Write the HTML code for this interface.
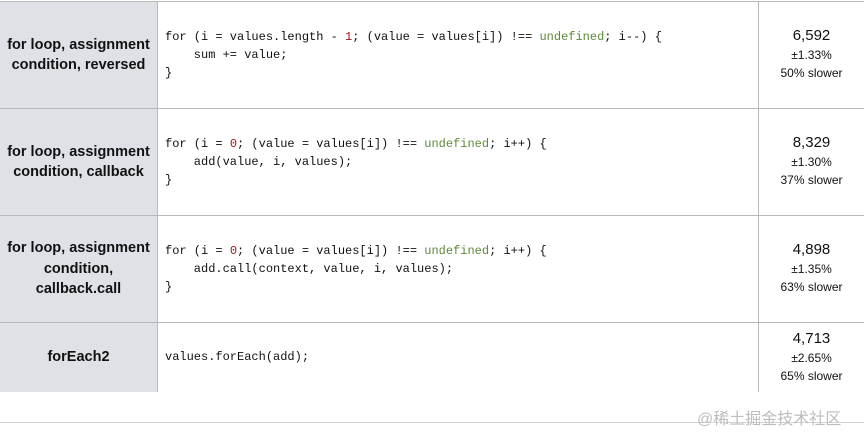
<!DOCTYPE html><html><head><style>
body{margin:0;width:864px;height:432px;background:#fff;position:relative;overflow:hidden;font-family:"Liberation Sans",sans-serif;color:#111}
.h{position:absolute;left:0;width:864px;height:1px;background:#b8b8b8}
.v{position:absolute;width:1px;background:#b8b8b8}
.lab{position:absolute;left:0;width:157px;background:#dee2e7;display:flex;align-items:center;justify-content:center;text-align:center;font-weight:bold;font-size:14.5px;line-height:20.5px}
.code{position:absolute;left:165px;font-family:"Liberation Mono",monospace;font-size:12px;line-height:18px;white-space:pre;color:#111}
.r{color:#a31515}.g{color:#5d8a3a}
.res{position:absolute;left:759px;width:105px;text-align:center;font-size:12px;line-height:18px}
.res b{font-weight:normal;font-size:15px;display:block;line-height:20px}
</style></head><body>
<div class="lab" style="top:2px;height:106px">for loop, assignment<br>condition, reversed</div>
<div class="lab" style="top:109px;height:106px">for loop, assignment<br>condition, callback</div>
<div class="lab" style="top:216px;height:106px">for loop, assignment<br>condition,<br>callback.call</div>
<div class="lab" style="top:323px;height:69px">forEach2</div>
<div class="h" style="top:1px"></div>
<div class="h" style="top:108px"></div>
<div class="h" style="top:215px"></div>
<div class="h" style="top:322px"></div>
<div class="h" style="top:422px;background:#d4d4d4"></div>
<div class="v" style="left:157px;top:1px;height:391px"></div>
<div class="v" style="left:758px;top:1px;height:391px"></div>
<div class="code" style="top:28px">for (i = values.length - <span class="r">1</span>; (value = values[i]) !== <span class="g">undefined</span>; i--) {
    sum += value;
}</div>
<div class="code" style="top:135px">for (i = <span class="r">0</span>; (value = values[i]) !== <span class="g">undefined</span>; i++) {
    add(value, i, values);
}</div>
<div class="code" style="top:242px">for (i = <span class="r">0</span>; (value = values[i]) !== <span class="g">undefined</span>; i++) {
    add.call(context, value, i, values);
}</div>
<div class="code" style="top:348px">values.forEach(add);</div>
<div class="res" style="top:26px"><b>6,592</b>±1.33%<br>50% slower</div>
<div class="res" style="top:133px"><b>8,329</b>±1.30%<br>37% slower</div>
<div class="res" style="top:240px"><b>4,898</b>±1.35%<br>63% slower</div>
<div class="res" style="top:329px"><b>4,713</b>±2.65%<br>65% slower</div>
<div style="position:absolute;left:697px;top:405px;font-size:16px;color:#bdbdbd;font-family:'Liberation Sans','Noto Sans CJK SC',sans-serif">@稀土掘金技术社区</div>
</body></html>
